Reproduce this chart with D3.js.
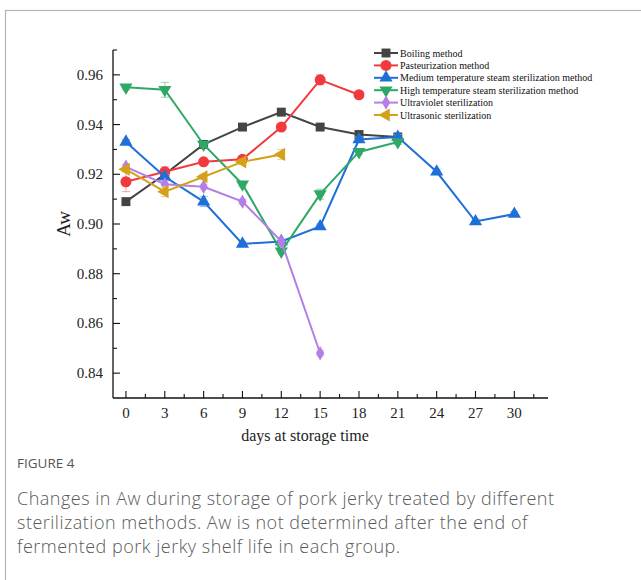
<!DOCTYPE html>
<html>
<head>
<meta charset="utf-8">
<script src="https://cdn.jsdelivr.net/npm/d3@7"></script>
<style>
  body { margin: 0; background: #fff; }
  svg { display: block; }
</style>
</head>
<body>
<svg id="chart" width="641" height="580"></svg>
<script>
// storage days and Aw values
const boilingDays = [0, 3, 6, 9, 12, 15, 18, 21];
const boilingAw = [0.909, 0.920, 0.932, 0.939, 0.945, 0.939, 0.936, 0.935];
const boilingErr = [0.001, 0.001, 0.001, 0.001, 0.001, 0.001, 0.001, 0.001];

const pasteurDays = [0, 3, 6, 9, 12, 15, 18];
const pasteurAw = [0.917, 0.921, 0.925, 0.926, 0.939, 0.958, 0.952];
const pasteurErr = [0.004, 0.002, 0.001, 0.001, 0.001, 0.002, 0.001];

const mediumDays = [0, 3, 6, 9, 12, 15, 18, 21, 24, 27, 30];
const mediumAw = [0.933, 0.919, 0.909, 0.892, 0.893, 0.899, 0.934, 0.935, 0.921, 0.901, 0.904];
const mediumErr = [0.001, 0.001, 0.002, 0.001, 0.001, 0.001, 0.001, 0.001, 0.001, 0.001, 0.001];

const highDays = [0, 3, 6, 9, 12, 15, 18, 21];
const highAw = [0.955, 0.954, 0.932, 0.916, 0.889, 0.912, 0.929, 0.933];
const highErr = [0.001, 0.003, 0.001, 0.001, 0.001, 0.002, 0.001, 0.001];

const uvDays = [0, 3, 6, 9, 12, 15];
const uvAw = [0.923, 0.916, 0.915, 0.909, 0.893, 0.848];
const uvErr = [0.001, 0.001, 0.001, 0.001, 0.001, 0.001];

const ultrasonicDays = [0, 3, 6, 9, 12];
const ultrasonicAw = [0.922, 0.913, 0.919, 0.925, 0.928];
const ultrasonicErr = [0.001, 0.002, 0.001, 0.001, 0.002];

const xTicks = [0, 3, 6, 9, 12, 15, 18, 21, 24, 27, 30];
const yTicks = [0.84, 0.86, 0.88, 0.90, 0.92, 0.94, 0.96];

const series = [
  { name: 'Boiling method', days: boilingDays, aw: boilingAw, err: boilingErr, color: '#444444', errColor: '#9a9a9a', shape: 'square' },
  { name: 'Pasteurization method', days: pasteurDays, aw: pasteurAw, err: pasteurErr, color: '#f03a3d', errColor: '#f4a0a0', shape: 'circle' },
  { name: 'Medium temperature steam sterilization method', days: mediumDays, aw: mediumAw, err: mediumErr, color: '#1f6fd8', errColor: '#8fb4ea', shape: 'up' },
  { name: 'High temperature steam sterilization method', days: highDays, aw: highAw, err: highErr, color: '#2fa866', errColor: '#94d2b0', shape: 'down' },
  { name: 'Ultraviolet sterilization', days: uvDays, aw: uvAw, err: uvErr, color: '#b57ee6', errColor: '#d8bdf2', shape: 'diamond' },
  { name: 'Ultrasonic sterilization', days: ultrasonicDays, aw: ultrasonicAw, err: ultrasonicErr, color: '#d4a21a', errColor: '#e8cf8a', shape: 'left' }
];

const svg = d3.select('#chart');
const serif = 'Liberation Serif, Times New Roman, serif';

// page frame
svg.append('rect')
  .attr('x', 5.5).attr('y', 10.5)
  .attr('width', 700).attr('height', 600)
  .attr('fill', 'none')
  .attr('stroke', '#b4b4b4')
  .attr('stroke-width', 1.2);

const x = d3.scaleLinear().domain([-1, 32.6]).range([113, 548]);
const y = d3.scaleLinear().domain([0.83, 0.97]).range([398, 50]);

// axes, ticks pointing inward
const xAxis = svg.append('g').attr('transform', 'translate(0,398)');
xAxis.append('line').attr('x1', 113).attr('x2', 548).attr('stroke', '#111').attr('stroke-width', 1.3);
xAxis.selectAll('.major').data(xTicks).enter().append('line')
  .attr('x1', d => x(d)).attr('x2', d => x(d)).attr('y1', 0).attr('y2', -7)
  .attr('stroke', '#111').attr('stroke-width', 1.1);
xAxis.selectAll('.minor').data(d3.range(1.5, 32, 3)).enter().append('line')
  .attr('x1', d => x(d)).attr('x2', d => x(d)).attr('y1', 0).attr('y2', -4)
  .attr('stroke', '#111').attr('stroke-width', 1.1);
xAxis.selectAll('text').data(xTicks).enter().append('text')
  .attr('x', d => x(d)).attr('y', 20)
  .attr('text-anchor', 'middle')
  .style('font-family', serif).attr('font-size', 15).attr('fill', '#222')
  .text(d => d);

const yAxis = svg.append('g').attr('transform', 'translate(113,0)');
yAxis.append('line').attr('y1', 50).attr('y2', 398).attr('stroke', '#111').attr('stroke-width', 1.3);
yAxis.selectAll('.major').data(yTicks).enter().append('line')
  .attr('y1', d => y(d)).attr('y2', d => y(d)).attr('x1', 0).attr('x2', 7)
  .attr('stroke', '#111').attr('stroke-width', 1.1);
yAxis.selectAll('.minor').data([0.85, 0.87, 0.89, 0.91, 0.93, 0.95, 0.97]).enter().append('line')
  .attr('y1', d => y(d)).attr('y2', d => y(d)).attr('x1', 0).attr('x2', 4)
  .attr('stroke', '#111').attr('stroke-width', 1.1);
yAxis.selectAll('text').data(yTicks).enter().append('text')
  .attr('x', -10).attr('y', d => y(d) + 5)
  .attr('text-anchor', 'end')
  .style('font-family', serif).attr('font-size', 15).attr('fill', '#222')
  .text(d => d.toFixed(2));

svg.append('text')
  .attr('x', 305).attr('y', 441)
  .attr('text-anchor', 'middle')
  .style('font-family', serif).attr('font-size', 16).attr('fill', '#222')
  .text('days at storage time');

svg.append('text')
  .attr('transform', 'translate(70,224) rotate(-90)')
  .attr('text-anchor', 'middle')
  .style('font-family', serif).attr('font-size', 19).attr('fill', '#222')
  .text('Aw');

const symbolFor = {
  square: d3.symbol().type(d3.symbolSquare).size(80),
  circle: d3.symbol().type(d3.symbolCircle).size(95),
  up: d3.symbol().type(d3.symbolTriangle).size(75),
  down: d3.symbol().type(d3.symbolTriangle).size(75),
  diamond: d3.symbol().type(d3.symbolDiamond).size(60),
  left: d3.symbol().type(d3.symbolTriangle).size(75)
};
const rotFor = { square: 0, circle: 0, up: 0, down: 180, diamond: 0, left: -90 };

function drawMarker(g, s, cx, cy) {
  g.append('path')
    .attr('d', symbolFor[s.shape]())
    .attr('transform', `translate(${cx},${cy}) rotate(${rotFor[s.shape]})`)
    .attr('fill', s.color);
}

const line = d3.line().x(d => x(d[0])).y(d => y(d[1]));

series.forEach(s => {
  const g = svg.append('g');
  const pts = s.days.map((d, i) => [d, s.aw[i], s.err[i]]);
  // error bars
  pts.forEach(p => {
    const top = y(p[1] + p[2]), bot = y(p[1] - p[2]), cx = x(p[0]);
    g.append('line').attr('x1', cx).attr('x2', cx).attr('y1', top).attr('y2', bot)
      .attr('stroke', s.errColor).attr('stroke-width', 1);
    [top, bot].forEach(v => g.append('line')
      .attr('x1', cx - 4).attr('x2', cx + 4).attr('y1', v).attr('y2', v)
      .attr('stroke', s.errColor).attr('stroke-width', 1));
  });
  g.append('path')
    .attr('d', line(pts))
    .attr('fill', 'none')
    .attr('stroke', s.color)
    .attr('stroke-width', 2);
  pts.forEach(p => drawMarker(g, s, x(p[0]), y(p[1])));
});

// legend
const legend = svg.append('g');
series.forEach((s, i) => {
  const ly = 53 + i * 12.4;
  legend.append('line').attr('x1', 374).attr('x2', 398).attr('y1', ly).attr('y2', ly)
    .attr('stroke', s.color).attr('stroke-width', 2);
  drawMarker(legend, s, 386, ly);
  legend.append('text')
    .attr('x', 400).attr('y', ly + 3.5)
    .style('font-family', serif).attr('font-size', 10).attr('fill', '#111')
    .text(s.name);
});

// caption
const sans = 'Open Sans, Lato, sans-serif';
svg.append('text')
  .attr('x', 17).attr('y', 468)
  .style('font-family', sans).attr('font-size', 13.5).attr('fill', '#555')
  .text('FIGURE 4');
const captionLines = [
  'Changes in Aw during storage of pork jerky treated by different',
  'sterilization methods. Aw is not determined after the end of',
  'fermented pork jerky shelf life in each group.'
];
svg.selectAll('.cap').data(captionLines).enter().append('text')
  .attr('x', 17).attr('y', (d, i) => 505 + i * 24)
  .style('font-family', sans).attr('font-size', 18).attr('font-weight', 300)
  .attr('letter-spacing', 0.5)
  .attr('fill', '#5a5a5a')
  .text(d => d);
</script>
</body>
</html>
